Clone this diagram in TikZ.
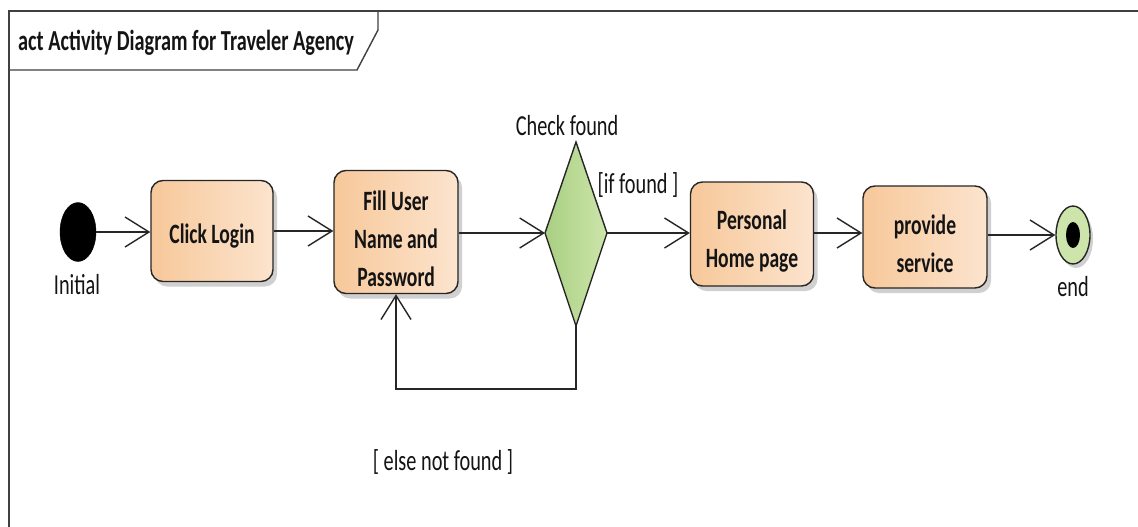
\documentclass[tikz,border=0pt]{standalone}
\usepackage{fontspec}
\setmainfont{Carlito}
\newfontfamily\cf[FakeStretch=0.7]{Carlito}
\usetikzlibrary{arrows.meta,shadows,shapes.geometric}
\definecolor{boxL}{HTML}{F7C89A}
\definecolor{boxR}{HTML}{FCE4CE}
\definecolor{grnL}{HTML}{A8CF82}
\definecolor{grnR}{HTML}{CDE5AA}
\definecolor{txt}{HTML}{141414}
\tikzset{
  act/.style={draw=black!85, line width=1.4pt, rounded corners=12pt, left color=boxL, right color=boxR,
    drop shadow={shadow xshift=4pt, shadow yshift=-5pt, fill=black!30, opacity=0.6}, inner sep=0pt},
  acttxt/.style={align=center, inner sep=0pt, text=txt, font=\cf\bfseries\fontsize{28}{38}\selectfont},
  lbl/.style={text=txt, font=\cf\fontsize{29}{34}\selectfont, inner sep=0pt},
  flow/.style={draw=black!85, line width=1.4pt, -{Straight Barb[length=24pt,width=30pt,line width=1.4pt]}},
}
\begin{document}
\begin{tikzpicture}[x=1pt,y=-1pt]
\useasboundingbox (0,0) rectangle (1138,527);
\fill[white] (0,0) rectangle (1138,527);
% frame
\draw[black!75, line width=2pt] (9,527) -- (9,11) -- (1138,11);
\draw[black!75, line width=1.4pt] (9,70) -- (357,70) -- (378,30) -- (378,11);
\node[anchor=west, text=txt, font=\cf\bfseries\fontsize{29}{34}\selectfont, inner sep=0pt] (title) at (18,43) {act Activity Diagram for Traveler Agency};
% initial
\node[draw=black, fill=black, ellipse, minimum width=36pt, minimum height=59pt, inner sep=0pt] (init) at (78,232) {};
\node[lbl] (initl) at (77,285) {Initial};
% activities
\node[act, minimum width=122pt, minimum height=101pt] (click) at (212,231) {};
\node[acttxt] (clickt) at ([yshift=-5pt]click.center) {Click Login};
\node[act, minimum width=124pt, minimum height=123pt] (fill) at (396,232) {};
\node[acttxt] (fillt) at ([yshift=-7pt]fill.center) {Fill User\\Name and\\Password};
\node[act, minimum width=123pt, minimum height=104pt] (home) at (752,234) {};
\node[acttxt] (homet) at ([yshift=-7pt]home.center) {Personal\\Home page};
\node[act, minimum width=124pt, minimum height=102pt] (serv) at (925,237) {};
\node[acttxt] (servt) at ([yshift=-7pt]serv.center) {provide\\service};
% decision
\coordinate (dT) at (576,142);
\coordinate (dL) at (545,233);
\coordinate (dB) at (576,326);
\coordinate (dR) at (607,233);
\filldraw[draw=black!85, line width=1.4pt, left color=grnL, right color=grnR] (dT) -- (dR) -- (dB) -- (dL) -- cycle;
\node[lbl] (chk) at (567,126) {Check found};
\node[lbl] (iff) at (638,185) {[if found ]};
% final
\node[draw=black!85, line width=1.4pt, ellipse, fill=grnR, minimum width=34pt, minimum height=58pt, inner sep=0pt,
  drop shadow={shadow xshift=3pt, shadow yshift=-4pt, fill=black!30, opacity=0.6}] (end) at (1073,235) {};
\node[ellipse, fill=black, minimum width=14pt, minimum height=26pt, inner sep=0pt] (endc) at (end.center) {};
\node[lbl] (endl) at (1073,287) {end};
% flows
\draw[flow] (init.east) -- (click.west |- init.east);
\draw[flow] (click.east) -- (fill.west |- click.east);
\draw[flow] (fill.east |- dL) -- (dL);
\draw[flow] (dR) -- (home.west |- dR);
\draw[flow] (home.east |- 0,233) -- (serv.west |- 0,233);
\draw[flow] (serv.east |- end.west) -- (end.west);
\coordinate (lp) at (396,389);
\draw[flow] (dB) -- (dB |- lp) -- (lp) -- (fill.south);
\node[lbl] (els) at (443,462) {[ else not found ]};
\end{tikzpicture}
\end{document}
